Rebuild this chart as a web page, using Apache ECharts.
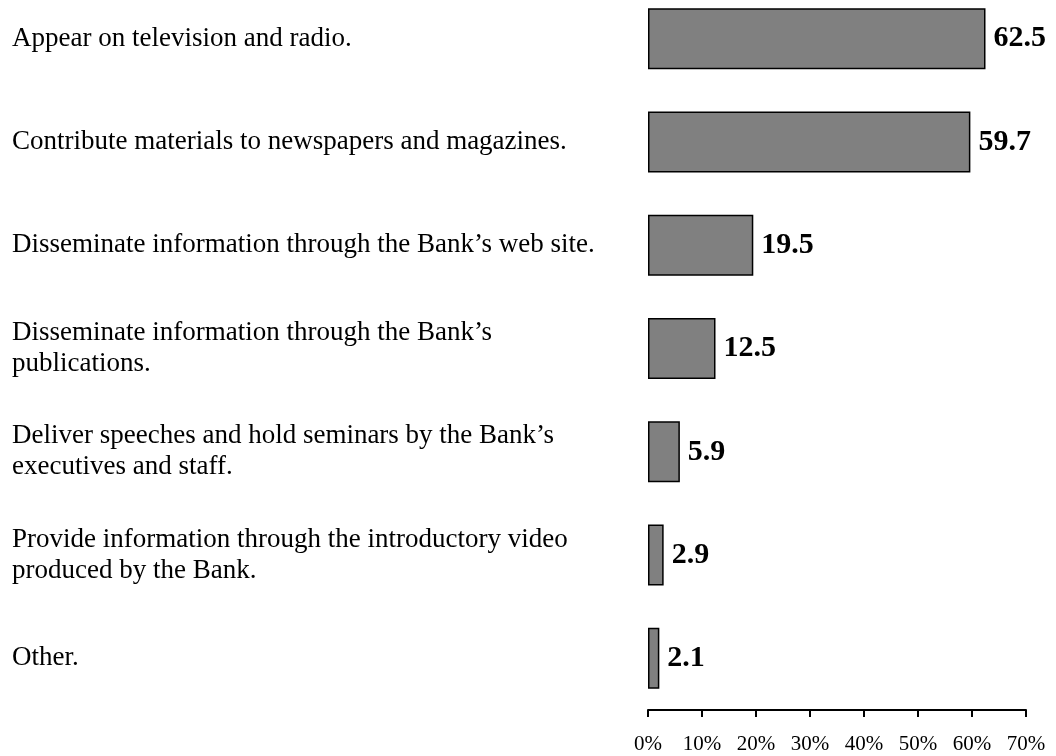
<!DOCTYPE html>
<html>
<head>
<meta charset="utf-8">
<script src="https://cdn.jsdelivr.net/npm/echarts@6/dist/echarts.min.js"></script>
<style>
html,body{margin:0;padding:0;background:#fff;}
#chart{width:1056px;height:756px;}
</style>
</head>
<body>
<div id="chart"></div>
<script>
const categories = [
  "Appear on television and radio.",
  "Contribute materials to newspapers and magazines.",
  "Disseminate information through the Bank\u2019s web site.",
  "Disseminate information through the Bank\u2019s\npublications.",
  "Deliver speeches and hold seminars by the Bank\u2019s\nexecutives and staff.",
  "Provide information through the introductory video\nproduced by the Bank.",
  "Other."
];
const values = [62.5, 59.7, 19.5, 12.5, 5.9, 2.9, 2.1];
const xTicks = [0, 10, 20, 30, 40, 50, 60, 70];

const FONT = '"Liberation Serif", "Times New Roman", serif';
const chart = echarts.init(document.getElementById('chart'));
chart.setOption({
  animation: false,
  backgroundColor: '#fff',
  grid: { left: 648, right: 30, top: -13, bottom: 46, containLabel: false, outerBoundsMode: 'none' },
  xAxis: {
    type: 'value',
    min: xTicks[0],
    max: xTicks[xTicks.length - 1],
    interval: 10,
    axisLine: { show: true, lineStyle: { color: '#000', width: 2 } },
    axisTick: { show: true, length: 7, lineStyle: { color: '#000', width: 2 } },
    splitLine: { show: false },
    axisLabel: {
      margin: 24,
      color: '#000',
      fontFamily: FONT,
      fontSize: 21,
      formatter: '{value}%'
    }
  },
  yAxis: {
    type: 'category',
    inverse: true,
    data: categories,
    axisLine: { show: false },
    axisTick: { show: false },
    axisLabel: {
      align: 'left',
      margin: 636,
      color: '#000',
      fontFamily: FONT,
      fontSize: 27,
      lineHeight: 31
    }
  },
  series: [{
    type: 'bar',
    data: values,
    barWidth: 61,
    itemStyle: { color: '#808080', borderColor: '#000', borderWidth: 1.5 },
    label: {
      show: true,
      position: 'right',
      distance: 8,
      color: '#000',
      fontFamily: FONT,
      fontWeight: 'bold',
      fontSize: 30
    }
  }]
});
</script>
</body>
</html>
